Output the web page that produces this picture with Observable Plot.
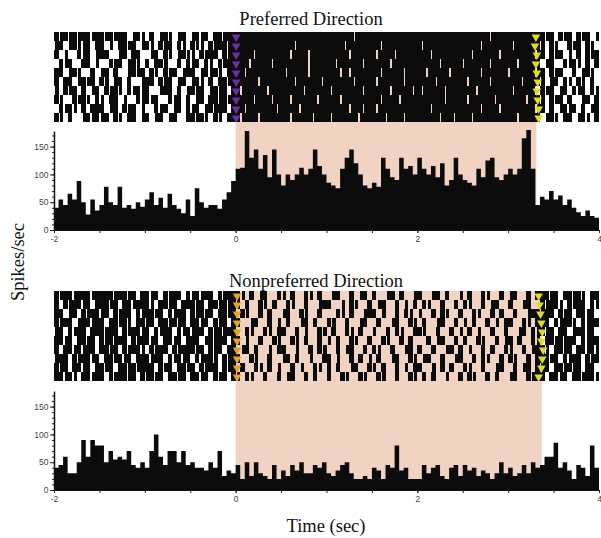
<!DOCTYPE html>
<html><head><meta charset="utf-8">
<script src="https://cdn.jsdelivr.net/npm/d3@7"></script>
<script src="https://cdn.jsdelivr.net/npm/@observablehq/plot@0.6"></script>
<style>
body{margin:0;background:#fff;}
#root{position:relative;width:601px;height:538px;overflow:hidden;background:#fff;}
.lbl{position:absolute;font-family:"Liberation Serif","Times New Roman",serif;font-size:18.5px;line-height:18.5px;color:#111;white-space:nowrap;}
</style></head><body><div id="root"></div>
<script>
// ---- data ----
const binStart = -2, binWidth = 0.05;           // time bins of rasters and histograms (s)
const stimEndPref = 3.31, stimEndNon = 3.37;     // stimulus offset (s)
const xTicksMajor = [-2, 0, 2, 4];
const xTicksMinor = [-2, -1.5, -1, -0.5, 0, 0.5, 1, 1.5, 2, 2.5, 3, 3.5, 4];
const yTicksMajor = [0, 50, 100, 150];
const yTicksMinor = [0,10,20,30,40,50,60,70,80,90,100,110,120,130,140,150,160,170];
const yAxisTop = 177;

// spike rasters: one string per trial, one char per 50 ms bin ('#' spikes, 'i' thin spike, '.' none)
const rasterPref = [
  "#i#i#i##i#"+"#i#i##.i#i"+".#.i#i.i#."+"i#i#.##i##" + "##########"+"##########"+"######i###"+"##########" + "##########"+"######i###"+"######" + "##i#.#i#.#i#.i",
  "i#.i#ii#.#"+"#.i.##i#.i"+"#i.#i#.#i."+"#ii.#i##i#" + "##########"+"###i######"+"####i#####"+"##i#######" + "#i########"+"####i#####"+"#i####" + "#i.#i..#i#.#i.",
  "#.i..#i#.i"+"##..i#.##."+".i#.#i.i#i"+"i.#i##.#i#" + "####i#####"+"##i###i###"+"#####i####"+"#i###i####" + "###i######"+"##i#####i#"+"######" + "i#.#i#.i.#.#i#",
  ".#i#..##.i"+"..#i#.i#i."+"#.##i..#.#"+"i#.#i.#i##" + "###i####i#"+"######i###"+"##i#####i#"+"####i#####" + "#####i####"+"i#####i###"+"##i###" + "#.i#..#i#i.#.#",
  "##.i#i..#."+"i#.#..i#i#"+".#i.#i#.i#"+"#.i#i#i.##" + "##i#######"+"#i####i###"+"###i#i####"+"##i####i##" + "##i####i##"+"####i#####"+"i#####" + "i#.#i#..#.i#i.",
  "#.##.i#i#."+"#i.i#.#..i"+"##.#i#.i#."+"i#i.#.##i#" + "#####i####"+"###i#####i"+"######i###"+"#i#####i##" + "####i#####"+"#i####i###"+"###i##" + "#i.i#.#i.#i.#.",
  "i.#i#.#.i#"+".#i#i.#i#i"+"#..i##.#.i"+"#i#.i#i#.#" + "#i#####i##"+"#####i####"+"#i######i#"+"####i####i" + "#i####i###"+"###i######"+"#i####" + ".#i#.i#.#i#.#i",
  "#i..#i#i.#"+"i.##.i..#i"+"#i#..#i#.#"+".i#.##i#i#" + "####i###i#"+"##i#####i#"+"###i######"+"##i###i###" + "######i###"+"#i#####i##"+"####i#" + "#i.#i#.#..i#.#",
  ".#i#i.#.##"+"#.i#.#i#.i"+"..#i#.i#.#"+"i#.i#i##.#" + "##i######i"+"####i#####"+"#####i##i#"+"#i########" + "###i######"+"####i###i#"+"######" + "i#.#.i#i#.#.i#",
  "#i.#..i#i#"+"i#.#i.##.i"+"#.i#.i#..#"+"#i#i.#i.##" + "#i###i####"+"##i####i##"+"#i#####i##"+"###i###i##" + "#####i##i#"+"##i#######"+"##i###" + "#.i#i.##.i#i.#"
];
const rasterNon = [
  "#i##i###i#"+"###i##i#.#"+"#i#.#i##.#"+"i#i##.#i##" + "#i.#.i#..#"+"i.#..#i.#."+".i#..#.i#."+"#..i#.#..i" + "#..i#.#..i"+".#..#i..#."+"i#..#.#" + "##i#.##i#i.##",
  "#.#i##i#.#"+"##i#.##i##"+"#i.##i#.##"+"#i#.##i#i#" + "i.#..#i.#."+".#i..#..i#"+"#..i.#i..#"+".i#..#.i.#" + ".#i..#..#."+"#i..#.i#.."+"#..i#.." + "#i##i.#i##.#i",
  "##.i#.#i##"+"i#.#i##.#i"+"##i#.#i##."+"#i#i#.##i#" + ".#i..#.#.."+"i#..#i..#."+"..#i.#..i#"+"#.i..#.#i." + "i..#.#i..#"+"..#i..#.#."+".#..i##" + "i##.#i#.##i#.",
  "#i##.i##i#"+"#.##i#i.##"+"i#.##i#i#."+"##i#.#i#.#" + "#..i#..#.i"+".#..i#.#.."+"#i..#..i#."+".#..i#..#i" + ".#..i#..#."+"i.#..#.i.#"+"#..#i.#" + "##.#i##i.#i##",
  "i#.#i##.##"+"#i##.#i##i"+"#.#i##.#i#"+"i##.#i#i##" + "..#i..#i.#"+"#..#.i..#i"+".#..#i.#.."+"i..#.#i..#" + "#i..#..#.i"+".#.i..#..#"+"..i#.#i" + "#i#.##.i##i#.",
  "##i#.##i#."+"#i#i##.#i#"+"#i#.##i#.#"+"##.i#i##.#" + "#.i..#..#i"+"..#i.#..#."+"i.#..#i..#"+"..#i..#.#." + "..#.i#..#."+"#..#i..#.i"+"#.#..#i" + ".##i#i##.#i##",
  "#.##i#i##."+"##i#.#i##i"+".#i##.#i##"+"#i#.#i#.##" + ".i#.#..i.#"+"#..i..#.#i"+"..#.i#..#."+"#i..#..i#." + "#..#..i#.#"+".i..#.#..#"+"i..#.i#" + "#i.##i#.##i#i",
  "i##.#i##i#"+".##i#i#.##"+"#i##.#i#i#"+".#i##i.#i#" + "#..#i..#.."+"i#.#..i..#"+"#.i..#.#.i"+".#..i#..#i" + ".i#..#..i#"+"..#.#i..#."+"#i..#.#" + "##i#.#i##.#i#",
  "#i#.##i#.#"+"#i#.##i#i#"+"##.#i#.##i"+"#.#i##.#i#" + ".#..#i.#.i"+"..#.i..#i."+"#.#..i#..#"+"i.#..#.i.#" + "#..i.#.#.."+"#i..#..i#."+".#.i#.#" + "i#.##i#i#.##.",
  "##i#i.##i#"+"#.#i##i#.#"+"i#i#.##i#."+"##i#.#i#.#" + "i.#i..#..#"+".i#..#.#.."+"#..#i..#i."+".#i..#..#i" + ".#.#..i..#"+".#i..#.#.."+"i#..#i#" + "#.##i#.##i##i"
];
// stimulus onset / offset markers per trial (s)
const prefOnset  = [0, 0, 0, 0, 0, 0, 0, 0, 0, 0];
const prefOffset = [3.30, 3.29, 3.31, 3.30, 3.31, 3.32, 3.31, 3.32, 3.33, 3.33];
const nonOnset   = [0.01, 0.01, 0.01, 0.01, 0.01, 0.01, 0.01, 0.01, 0.01, 0.01];
const nonOffset  = [3.33, 3.34, 3.35, 3.36, 3.37, 3.36, 3.38, 3.37, 3.36, 3.33];

// peri-stimulus time histograms (spikes/sec), 50 ms bins from -2 s
const psthPref = [
  40,55,45,65,55,88,50,28,55,35, 45,78,50,45,78,40,45,38,50,42, 55,68,45,58,40,65,45,38,30,55, 25,75,50,40,45,45,38,55,68,88,
  110,112,178,130,145,110,135,95,145,100, 80,100,90,100,112,100,110,145,115,100, 85,80,75,110,130,145,120,100,80,75,
  85,78,130,110,95,90,130,110,115,100, 130,110,100,115,95,120,80,90,130,100, 90,85,80,110,95,125,130,95,90,100,
  110,100,110,165,180,110,
  45,60,55,70,55,62,45,55,40,32,25,35,25,22
];
const psthNon = [
  40,45,60,30,30,50,90,60,90,80, 80,50,70,55,60,55,70,45,40,50, 40,70,100,60,45,70,70,50,70,45, 50,40,40,35,50,40,70,25,35,30,
  45,20,50,25,50,30,25,20,45,20, 35,25,45,35,50,30,30,45,40,50, 30,25,35,45,50,30,20,20,25,20, 40,35,20,45,40,80,35,40,20,20,
  20,45,30,40,45,25,20,40,45,25, 45,35,40,25,35,30,20,30,50,30, 40,25,30,45,30,50,40,45,
  60,60,85,40,50,35,20,45,40,25,80,40
];

// ---- colours / styles ----
const SHADE = "#f1d3c3", INK = "#0b0b0b";
const PURPLE = "#6a2fa6", ORANGE = "#e8a31c", YELLOW = "#e2dc20";
const root = document.getElementById("root");

function cells(rows) {
  const out = [];
  rows.forEach((s, r) => {
    for (let j = 0; j < s.length; j++) {
      const c = s[j]; if (c === ".") continue;
      const t = binStart + j * binWidth;
      out.push({x1: c === "i" ? t + 0.016 : t, x2: t + binWidth, y1: r, y2: r + 1});
    }
  });
  return out;
}
function place(el, top) { el.style.position = "absolute"; el.style.left = "0px"; el.style.top = top + "px"; root.appendChild(el); }

function raster(rows, stimEnd, onset, offset, onColor, top) {
  const n = rows.length;
  const el = Plot.plot({
    width: 601, height: 90, marginLeft: 54, marginRight: 2, marginTop: 0, marginBottom: 0,
    style: {background: "transparent", overflow: "visible"},
    x: {domain: [-2, 4], axis: null}, y: {domain: [n, 0], axis: null},
    marks: [
      Plot.rect([{x1: 0, x2: stimEnd, y1: 0, y2: n}], {x1: "x1", x2: "x2", y1: "y1", y2: "y2", fill: SHADE}),
      Plot.rect(cells(rows), {x1: "x1", x2: "x2", y1: "y1", y2: "y2", fill: INK, shapeRendering: "crispEdges"}),
      Plot.dot(onset.map((t, i) => ({t, r: i + 0.5})), {x: "t", y: "r", symbol: "triangle", rotate: 180, r: 3.2, fill: onColor}),
      Plot.dot(offset.map((t, i) => ({t, r: i + 0.5})), {x: "t", y: "r", symbol: "triangle", rotate: 180, r: 3.2, fill: YELLOW})
    ]
  });
  place(el, top);
}

function psth(values, stimEnd, height, top) {
  const yTop = (height - 18) / 0.556;
  const steps = values.map((v, i) => ({t: binStart + i * binWidth, v}));
  steps.push({t: binStart + values.length * binWidth, v: values[values.length - 1]});
  const el = Plot.plot({
    width: 601, height, marginLeft: 54, marginRight: 2, marginTop: 0, marginBottom: 18,
    style: {background: "transparent", overflow: "visible", color: "#444", fontFamily: "'Liberation Sans', Arial, sans-serif", fontSize: "8.5px"},
    x: {domain: [-2, 4]}, y: {domain: [0, yTop]},
    marks: [
      Plot.rect([{x1: 0, x2: stimEnd, y1: 0, y2: yTop}], {x1: "x1", x2: "x2", y1: "y1", y2: "y2", fill: SHADE}),
      Plot.areaY(steps, {x: "t", y: "v", curve: "step-after", fill: INK}),
      Plot.ruleY([0], {stroke: "#111", strokeWidth: 1}),
      Plot.ruleX([-2], {y1: 0, y2: yAxisTop, stroke: "#111", strokeWidth: 1.5}),
      Plot.axisY(yTicksMinor, {tickSize: 2, tickFormat: () => "", label: null, stroke: "#222"}),
      Plot.axisY(yTicksMajor, {tickSize: 4, tickPadding: 2, label: null, stroke: "#222", tickFormat: d => String(d)}),
      Plot.axisX(xTicksMinor, {tickSize: 3, tickFormat: () => "", label: null, stroke: "#222"}),
      Plot.axisX(xTicksMajor, {tickSize: 3, tickPadding: 2, label: null, stroke: "#222", tickFormat: d => String(d)})
    ]
  });
  place(el, top);
}

function label(text, x, top, rotate) {
  const d = document.createElement("div");
  d.className = "lbl"; d.textContent = text;
  d.style.left = x + "px"; d.style.top = top + "px";
  d.style.transform = rotate ? "translate(-50%,-50%) rotate(-90deg)" : "translateX(-50%)";
  root.appendChild(d);
}

raster(rasterPref, stimEndPref, prefOnset, prefOffset, PURPLE, 32);
psth(psthPref, stimEndPref, 126, 122);
raster(rasterNon, stimEndNon, nonOnset, nonOffset, ORANGE, 291);
psth(psthNon, stimEndNon, 127, 381);

label("Preferred Direction", 311, 9.5);
label("Nonpreferred Direction", 316, 271.5);
label("Time (sec)", 326, 516.5);
label("Spikes/sec", 17.5, 262, true);
</script></body></html>
